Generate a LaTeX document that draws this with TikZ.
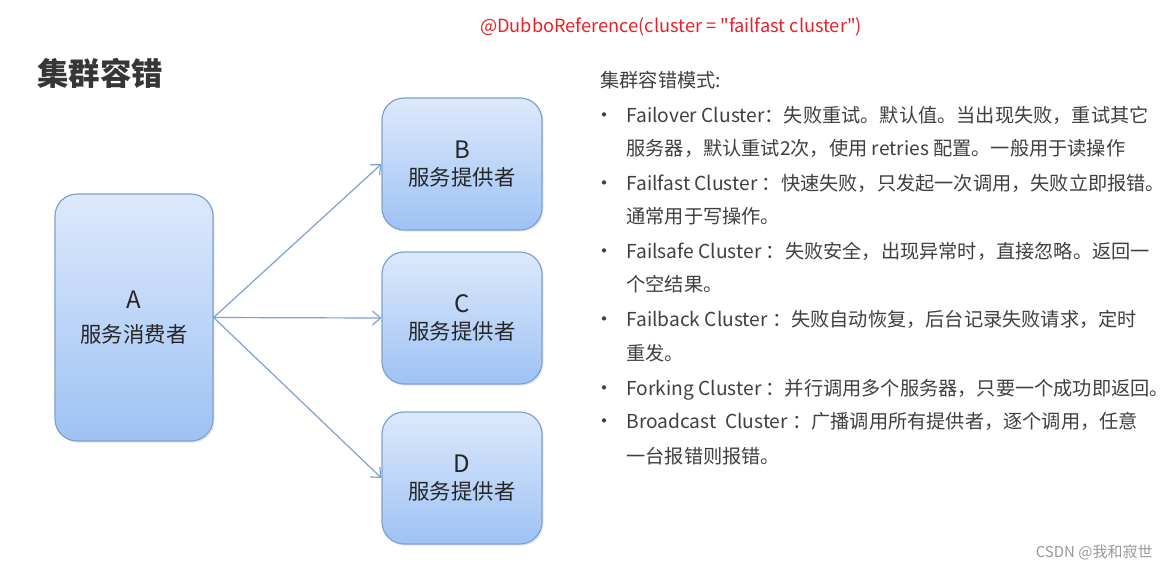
\documentclass[tikz,border=0pt]{standalone}
\usepackage{fontspec}
\setmainfont{Noto Sans CJK SC}
\newfontfamily\annofont[Ligatures=TeXOff]{Noto Sans CJK SC}
\usetikzlibrary{arrows.meta,positioning,shadows}
\definecolor{boxtop}{HTML}{DDE9FB}
\definecolor{boxbot}{HTML}{9EC2F4}
\definecolor{boxline}{HTML}{7EA1CF}
\definecolor{textgray}{HTML}{404040}
\definecolor{annored}{HTML}{E8202A}

\begin{document}
\begin{tikzpicture}[x=0.5pt, y=-0.5pt,
  box/.style={rectangle, rounded corners=11pt, draw=boxline, line width=0.6pt, top color=boxtop, bottom color=boxbot, minimum width=80pt, minimum height=66pt, align=center, font=\fontsize{10.7}{13.5}\selectfont, text=black!85, drop shadow={opacity=0.18, shadow xshift=0.8pt, shadow yshift=-0.8pt}},
  arr/.style={-{Straight Barb[length=4pt,width=7pt]}, boxline, line width=0.6pt},
  item/.style={anchor=base west, inner sep=0pt, font=\fontsize{9.6}{12}\selectfont, text=textgray},
  dot/.style={anchor=base, inner sep=0pt, font=\fontsize{10}{12}\selectfont, text=textgray}
]
  \fill[white] (0,0) rectangle (1168,570);
  \useasboundingbox (0,0) rectangle (1168,570);

  % annotation and title
  \node[annored, font=\annofont\fontsize{9.1}{11}\selectfont] (anno) at (671,27) {@DubboReference(cluster = "failfast cluster")};
  \node[anchor=west, inner sep=0pt, text=textgray!85!black, font=\fontsize{15.7}{18}\selectfont\bfseries] (title) at (37,73) {集群容错};

  % consumer and providers
  \node[box, minimum width=79pt, minimum height=123.5pt] (cons) at (134,317.5) {{\fontsize{12}{14}\selectfont A}\\[3.5pt]服务消费者};
  \node[box] (provB) at (462,164) {{\fontsize{12}{14}\selectfont B}\\服务提供者};
  \node[box] (provC) at (462,318) {{\fontsize{12}{14}\selectfont C}\\服务提供者};
  \node[box] (provD) at (462,478) {{\fontsize{12}{14}\selectfont D}\\服务提供者};

  \draw[arr] (cons.east) -- (provB.west);
  \draw[arr] (cons.east) -- (provC.west);
  \draw[arr] (cons.east) -- (provD.west);

  % cluster modes
  \node[item] (modes) at (600,87) {集群容错模式:};
  \node[item] (l1) at (626,122) {Failover Cluster：失败重试。默认值。当出现失败，重试其它};
  \node[item] (l2) at (626,155) {服务器，默认重试2次，使用 retries 配置。一般用于读操作};
  \node[item] (l3) at (626,190) {Failfast Cluster ：快速失败，只发起一次调用，失败立即报错。};
  \node[item] (l4) at (626,223) {通常用于写操作。};
  \node[item] (l5) at (626,258) {Failsafe Cluster ：失败安全，出现异常时，直接忽略。返回一};
  \node[item] (l6) at (626,291) {个空结果。};
  \node[item] (l7) at (626,326) {Failback Cluster ：失败自动恢复，后台记录失败请求，定时};
  \node[item] (l8) at (626,360) {重发。};
  \node[item] (l9) at (626,395) {Forking Cluster ：并行调用多个服务器，只要一个成功即返回。};
  \node[item] (l10) at (626,428) {Broadcast\ \ Cluster ：广播调用所有提供者，逐个调用，任意};
  \node[item] (l11) at (626,463) {一台报错则报错。};
  \foreach \y in {122,190,258,326,395,428}
    \node[dot] (b\y) at (604,\y) {•};

  \node[anchor=east, inner sep=0pt, text=black!40, font=\fontsize{7.5}{9}\selectfont] (mark) at (1153,552) {CSDN @我和寂世};
\end{tikzpicture}
\end{document}
